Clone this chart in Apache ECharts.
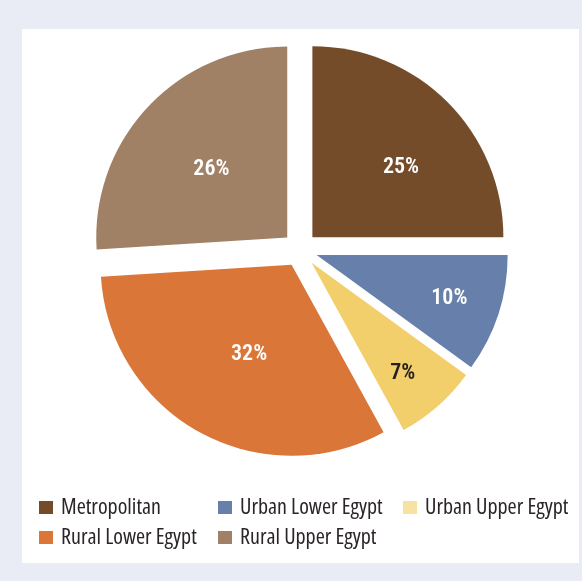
<!DOCTYPE html>
<html>
<head>
<meta charset="utf-8">
<title>Population by region</title>
<script src="https://cdn.jsdelivr.net/npm/echarts@6/dist/echarts.min.js"></script>
<style>
  html, body { margin: 0; padding: 0; background: #e9ecf4; }
  #chart { width: 582px; height: 581px; }
</style>
</head>
<body>
<div id="chart"></div>
<script>
// Regions and their shares (%)
const categories = ['Metropolitan', 'Urban Lower Egypt', 'Urban Upper Egypt', 'Rural Lower Egypt', 'Rural Upper Egypt'];
const shares = [25, 10, 7, 32, 26];

const sliceColors = ['#754c29', '#6780ab', '#f2cf6b', '#db7639', '#a08165'];
const swatchColors = ['#754c29', '#6780ab', '#f7e3a1', '#db7639', '#a08165'];
const labelColors = ['#ffffff', '#ffffff', '#231f20', '#ffffff', '#ffffff'];
// nudges that move each label away from the default mid-radius spot
const labelNudges = [[19, 0], [39, 13], [26, 37], [5, 3], [-4, -1]];

const LEGEND_FONT = '"Open Sans", sans-serif';
const LABEL_FONT = 'Roboto, "Open Sans", sans-serif';
const STRETCH = 'condensed';

const pieData = categories.map((name, i) => ({
  name: name,
  value: shares[i],
  selected: true,
  itemStyle: { color: sliceColors[i] },
  label: { color: labelColors[i] }
}));

function legendColumn(names, left) {
  return {
    orient: 'vertical',
    left: left,
    top: 490.5,
    padding: 5,
    itemWidth: 14,
    itemHeight: 13,
    itemGap: 6,
    icon: 'rect',
    selectedMode: false,
    textStyle: {
      fontFamily: LEGEND_FONT, fontStyle: STRETCH, fontSize: 22, color: '#2b2526',
      lineHeight: 24, padding: [0, 0, 0, 3]
    },
    data: names.map(n => ({ name: n, itemStyle: { color: swatchColors[categories.indexOf(n)] } }))
  };
}

const chart = echarts.init(document.getElementById('chart'), null, { renderer: 'canvas' });
chart.setOption({
  animation: false,
  backgroundColor: '#e9ecf4',
  graphic: [{
    type: 'rect',
    z: -10,
    silent: true,
    shape: { x: 22, y: 29, width: 557, height: 534 },
    style: { fill: '#ffffff' }
  }],
  legend: [
    legendColumn([categories[0], categories[3]], 34),
    legendColumn([categories[1], categories[4]], 213),
    legendColumn([categories[2]], 398)
  ],
  series: [{
    type: 'pie',
    center: [300, 249.5],
    radius: [0, 191],
    startAngle: 90,
    clockwise: true,
    selectedMode: 'multiple',
    selectedOffset: 17.5,
    avoidLabelOverlap: false,
    itemStyle: { borderWidth: 0 },
    emphasis: { disabled: true },
    select: { itemStyle: { borderWidth: 0 } },
    label: {
      show: true,
      position: 'inside',
      formatter: p => p.value + '%',
      fontFamily: LABEL_FONT,
      fontStyle: STRETCH,
      fontSize: 22,
      fontWeight: 600
    },
    labelLayout: p => ({ dx: labelNudges[p.dataIndex][0], dy: labelNudges[p.dataIndex][1] }),
    labelLine: { show: false },
    data: pieData
  }]
});
</script>
</body>
</html>
